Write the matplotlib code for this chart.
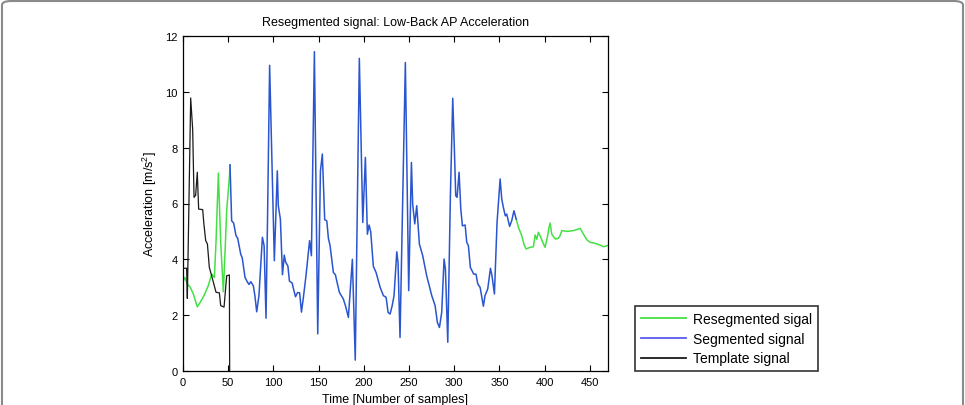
import matplotlib
matplotlib.use("Agg")
import matplotlib.pyplot as plt
from matplotlib.patches import FancyBboxPatch

plt.rcParams['font.family'] = ['Liberation Sans', 'DejaVu Sans']
plt.rcParams['mathtext.fontset'] = 'custom'
plt.rcParams['mathtext.rm'] = 'Liberation Sans'
plt.rcParams['mathtext.it'] = 'Liberation Sans'
plt.rcParams['mathtext.default'] = 'regular'

# ---- data ----
template_x = [0, 4, 4.8, 8.5, 10.7, 12.2, 14, 15.8, 17.3, 21.8, 23, 25.1, 27, 29.1,
              31.7, 33.6, 36.5, 40.2, 41.7, 45.4, 48.3, 51.3, 51.6]
template_y = [3.68, 3.68, 2.6, 9.78, 8.65, 6.22, 6.3, 7.12, 5.8, 5.78, 5.3, 4.67, 4.55, 3.71,
              3.41, 3.18, 2.82, 2.8, 2.34, 2.29, 3.41, 3.44, 0.0]

reseg_head_x = [0, 2, 4.8, 8, 11.4, 15.8, 18.8, 23.2, 28, 31.7, 34.7, 36.5, 39.1,
                41.7, 44.6, 46.8, 48.3, 51.3, 52]
reseg_head_y = [3.2, 3.35, 3.12, 3.0, 2.76, 2.3, 2.45, 2.7, 3.06, 3.47, 3.35, 4.61, 7.09,
                4.61, 2.84, 4.49, 5.74, 6.94, 7.38]

seg_x = [52, 53.8, 56, 58.6, 60.5, 63.8, 65.5, 68.6, 71, 73, 75, 77.8, 79.5, 81.5, 84,
         87.8, 89.7, 91.8, 93.5, 95.8, 101, 104.3, 105.4, 107.7, 110, 112, 113.5, 116,
         117.7, 120.7, 122.5, 124.4, 126.7, 129, 131, 133, 136, 140, 142, 145.3, 149,
         152, 154.1, 156.7, 159, 160.8, 162.6, 166.3, 168.5, 172.9, 177.3, 180, 182.9,
         187.3, 190.5, 195, 198.8, 201.7, 203.9, 205.8, 207.6, 210.5, 213.5, 218, 221.6,
         224.6, 226.8, 229, 231.2, 233.4, 236.4, 237.8, 240, 245.9, 249.6, 252.6, 254,
         256.3, 258.5, 261.4, 265.1, 269.5, 275.1, 278.8, 281.3, 283.6, 286.1, 288.7,
         290.2, 292.8, 295.7, 298.3, 300, 301.6, 303.1, 305.3, 307.2, 309, 312, 313.8,
         315.6, 317.8, 321.5, 324, 326, 328.6, 332.2, 334, 337, 340, 341.7, 344.4, 347.3,
         350.7, 352.5, 354.3, 356.4, 358, 361.2, 363.5, 366, 368.5]
seg_y = [7.38, 5.38, 5.3, 4.85, 4.75, 4.19, 4.05, 3.35, 3.2, 3.1, 3.2, 3.05, 2.7, 2.12, 2.7,
         4.79, 4.49, 1.89, 5.5, 10.95, 3.95, 7.17, 5.92, 5.44, 3.45, 4.15, 3.9, 3.76,
         3.22, 3.15, 2.9, 2.66, 2.81, 2.8, 2.11, 2.6, 3.41, 4.67, 4.13, 11.44, 1.33,
         7.17, 7.77, 5.42, 5.38, 4.75, 4.5, 3.53, 3.45, 2.82, 2.58, 2.3, 1.92,
         4.0, 0.39, 11.2, 5.32, 7.65, 4.9, 5.23, 4.99, 3.75, 3.53, 3.0, 2.7,
         2.64, 2.1, 2.04, 2.32, 2.7, 4.27, 3.89, 1.2, 11.05, 2.88, 7.47, 5.98,
         5.27, 5.92, 4.55, 4.13, 3.41, 2.7, 2.34, 1.74, 1.56, 2.1, 4.01,
         3.65, 1.03, 6.28, 9.77, 8.07, 6.28, 6.22, 7.12, 5.8, 5.2, 5.23, 4.61,
         4.49, 3.71, 3.47, 3.47, 3.12, 2.99, 2.32, 2.7, 2.94, 3.68, 3.41, 2.76, 5.32,
         6.88, 6.16, 5.86, 5.56, 5.62, 5.18, 5.38, 5.74, 5.44]

reseg_tail_x = [368.5, 371, 374.6, 377, 379.4, 383.8, 387.5, 389.4, 391.2, 393, 395.6, 398,
                400.4, 403, 404.5, 406, 407.8, 411.5, 415, 417, 419, 425, 432, 436, 439.2,
                442.9, 446.6, 450.2, 455, 461.3, 465, 470]
reseg_tail_y = [5.44, 5.14, 4.85, 4.55, 4.37, 4.43, 4.45, 4.87, 4.72, 4.97, 4.79, 4.6,
                4.43, 4.8, 5.1, 5.3, 4.9, 4.73, 4.75, 4.85, 5.03, 5.0, 5.03, 5.07, 5.11,
                4.9, 4.7, 4.61, 4.58, 4.51, 4.45, 4.5]

x_ticks = [0, 50, 100, 150, 200, 250, 300, 350, 400, 450]
y_ticks = [0, 2, 4, 6, 8, 10, 12]

# ---- figure ----
W, H = 965, 406
fig = plt.figure(figsize=(W / 100, H / 100), dpi=100)
ax = fig.add_axes([183 / W, 1 - 372 / H, (608 - 183) / W, (372 - 37) / H])

green = '#44e044'
blue = '#2a55cf'
black = '#1a1a1a'

l1, = ax.plot(reseg_head_x, reseg_head_y, color=green, lw=1.1, label='Resegmented sigal', zorder=2)
ax.plot(reseg_tail_x, reseg_tail_y, color=green, lw=1.1, zorder=2)
l2, = ax.plot(seg_x, seg_y, color=blue, lw=1.1, label='Segmented signal', zorder=3)
l3, = ax.plot(template_x, template_y, color=black, lw=0.9, label='Template signal', zorder=4)

ax.set_xlim(0, 470)
ax.set_ylim(0, 12)
ax.set_xticks(x_ticks)
ax.set_yticks(y_ticks)
ax.tick_params(direction='in', length=4, width=0.8, top=True, right=True,
               labelsize=8, pad=4)
for s in ax.spines.values():
    s.set_linewidth(0.9)

ax.set_title('Resegmented signal: Low-Back AP Acceleration', fontsize=9, pad=8)
ax.set_xlabel('Time [Number of samples]', fontsize=9, labelpad=5)
ax.set_ylabel('Acceleration [m/s$^2$]', fontsize=9, labelpad=4)

leg = fig.legend(handles=[l1, l2, l3], loc='lower left',
                 bbox_to_anchor=(635 / W, 1 - 372 / H), borderaxespad=0,
                 fontsize=10, fancybox=False, frameon=True, edgecolor='black',
                 handlelength=3.3, handletextpad=0.5, labelspacing=0.42,
                 borderpad=0.4)
leg.get_frame().set_linewidth(1.2)
for h in leg.get_lines():
    h.set_linewidth(1.3)
leg.get_lines()[1].set_color('#5a5af0')

# page frame (bottom edge falls outside the image, as in the reference)
border = FancyBboxPatch((2 / W, -0.1), 1 - 4 / W, 1.1 - 2 / H,
                        boxstyle='round,pad=0,rounding_size=0.01',
                        transform=fig.transFigure, fill=False,
                        edgecolor='#8a8a8a', lw=1.5)
fig.patches.append(border)

fig.savefig('out.png', dpi=100)
